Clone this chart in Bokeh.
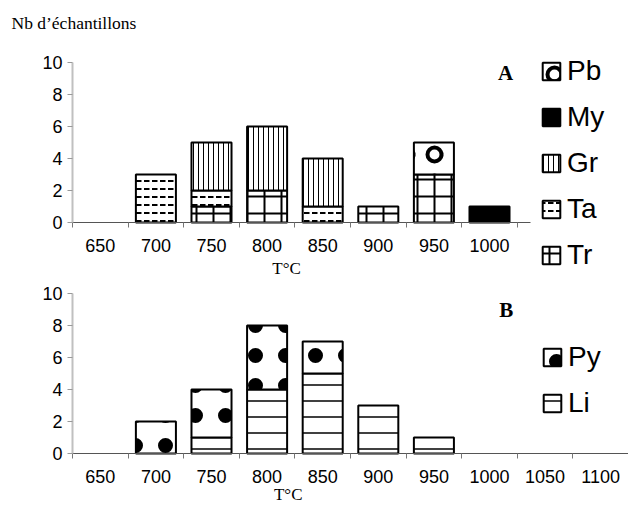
import numpy as np
from bokeh.plotting import figure
from bokeh.models import FixedTicker, Label, Legend, LegendItem, ColumnDataSource
from bokeh.layouts import column
from bokeh.embed import file_html
from bokeh.resources import INLINE

# ---- data ----
temps_a = ["650", "700", "750", "800", "850", "900", "950", "1000"]
tr = [0, 0, 1, 2, 0, 1, 3, 0]
ta = [0, 3, 1, 0, 1, 0, 0, 0]
gr = [0, 0, 3, 4, 3, 0, 0, 0]
my = [0, 0, 0, 0, 0, 0, 0, 1]
pb = [0, 0, 0, 0, 0, 0, 2, 0]

temps_b = ["650", "700", "750", "800", "850", "900", "950", "1000", "1050", "1100"]
li = [0, 0, 1, 4, 5, 3, 1, 0, 0, 0]
py = [0, 2, 3, 4, 2, 0, 0, 0, 0, 0]

y_ticks = [0, 2, 4, 6, 8, 10]

# ---- styles ----
styles = {
    "Tr": dict(fill_color="white", hatch_pattern="+", hatch_scale=17, hatch_weight=2, hatch_color="black"),
    "Ta": dict(fill_color="white", hatch_pattern="horizontal_dash", hatch_scale=8, hatch_weight=2, hatch_color="black"),
    "Gr": dict(fill_color="white", hatch_pattern="vertical_line", hatch_scale=5, hatch_weight=1, hatch_color="black"),
    "My": dict(fill_color="black"),
    "Pb": dict(fill_color="white", hatch_pattern="ring", hatch_scale=28, hatch_weight=4, hatch_color="black"),
    "Py": dict(fill_color="white", hatch_pattern="dot", hatch_scale=30, hatch_weight=4, hatch_color="black"),
    "Li": dict(fill_color="white", hatch_pattern="horizontal_line", hatch_scale=16, hatch_weight=1.5, hatch_color="black"),
}

SANS = "Liberation Sans"
SERIF = "Liberation Serif"

PX_X = 55.6   # pixels per category
PX_Y = 16.0   # pixels per unit
LEFT = 72     # pixel of the y axis


def make_fig(height, top_px, cats, xbound):
    # top_px: pixel row of y=10 inside this figure
    ytop = 10 + top_px / PX_Y
    ybot = 10 - (height - top_px) / PX_Y
    p = figure(width=628, height=height,
               x_range=(-LEFT / PX_X, 10), y_range=(ybot, ytop),
               output_backend="svg", toolbar_location=None,
               min_border_left=0, min_border_right=0,
               min_border_top=0, min_border_bottom=0)
    p.xgrid.visible = False
    p.ygrid.visible = False
    p.outline_line_color = None
    n = len(cats)
    centers = [i + 0.5 for i in range(n)]
    xa = p.xaxis[0]
    xa.fixed_location = 0
    xa.bounds = (0, xbound)
    xa.ticker = FixedTicker(ticks=centers, minor_ticks=list(range(n + 1)))
    xa.major_label_overrides = {c: t for c, t in zip(centers, cats)}
    xa.major_tick_out = 0
    xa.major_tick_in = 0
    xa.minor_tick_out = 5
    xa.minor_tick_in = 0
    xa.minor_tick_line_color = "#777777"
    xa.axis_line_color = "#555555"
    xa.axis_line_width = 1
    xa.major_label_standoff = 11
    xa.major_label_text_font = SANS
    xa.major_label_text_font_size = "18px"
    xa.major_label_text_color = "black"
    ya = p.yaxis[0]
    ya.fixed_location = 0
    ya.bounds = (0, 10)
    ya.ticker = FixedTicker(ticks=y_ticks)
    ya.minor_tick_line_color = None
    ya.major_tick_out = 5
    ya.major_tick_in = 0
    ya.major_tick_line_color = "#999999"
    ya.axis_line_color = "#c0c0c0"
    ya.axis_line_width = 2
    ya.major_label_standoff = 5
    ya.major_label_text_font = SANS
    ya.major_label_text_font_size = "18px"
    ya.major_label_text_color = "black"
    return p


def stack(p, series):
    n = len(series[0][1])
    x = np.arange(n) + 0.5
    base = np.zeros(n)
    rends = {}
    for name, vals in series:
        v = np.array(vals, dtype=float)
        m = v > 0
        src = ColumnDataSource(dict(x=x[m], bottom=base[m], top=(base + v)[m]))
        r = p.vbar(x="x", bottom="bottom", top="top", width=0.72, source=src,
                   line_color="black", line_width=2, **styles[name])
        base = base + v
        rends[name] = r
    return rends


def make_legend(rends, names, loc):
    items = [LegendItem(label=nm, renderers=[rends[nm]]) for nm in names]
    return Legend(items=items, location=loc, glyph_width=22, glyph_height=22,
                  label_height=32, spacing=14, padding=0, margin=0,
                  label_standoff=5, border_line_color=None, background_fill_alpha=0,
                  label_text_font=SANS, label_text_font_size="28px",
                  label_text_color="black")


def text(p, x, y, s, font=SERIF, size="17px", style="normal", align="center"):
    p.add_layout(Label(x=x, y=y, text=s, text_font=font, text_font_size=size,
                       text_font_style=style, text_align=align,
                       text_baseline="middle", text_color="black"))


# ---- top chart (A) ----
TOP_H = 280
pa = make_fig(TOP_H, 62, temps_a, 8.24)
ra = stack(pa, [("Tr", tr), ("Ta", ta), ("Gr", gr), ("My", my), ("Pb", pb)])
pa.add_layout(make_legend(ra, ["Pb", "My", "Gr", "Ta", "Tr"], (540, 4 + TOP_H - 275)))
text(pa, -1.097, 12.5, "Nb d\u2019\u00e9chantillons", size="17.5px", align="left")
text(pa, 7.79, 9.375, "A", size="21px", style="bold")
text(pa, 3.85, -2.875, "T\u00b0C")

# ---- bottom chart (B) ----
pb_fig = make_fig(505 - TOP_H, 293 - TOP_H, temps_b, 10)
rb = stack(pb_fig, [("Li", li), ("Py", py)])
pb_fig.add_layout(make_legend(rb, ["Py", "Li"], (541, 86)))
text(pb_fig, 7.8, 8.94, "B", size="21px", style="bold")
text(pb_fig, 3.88, -2.5625, "T\u00b0C")

layout = column(pa, pb_fig, spacing=0)
open("out.html", "w").write(file_html(layout, INLINE))
